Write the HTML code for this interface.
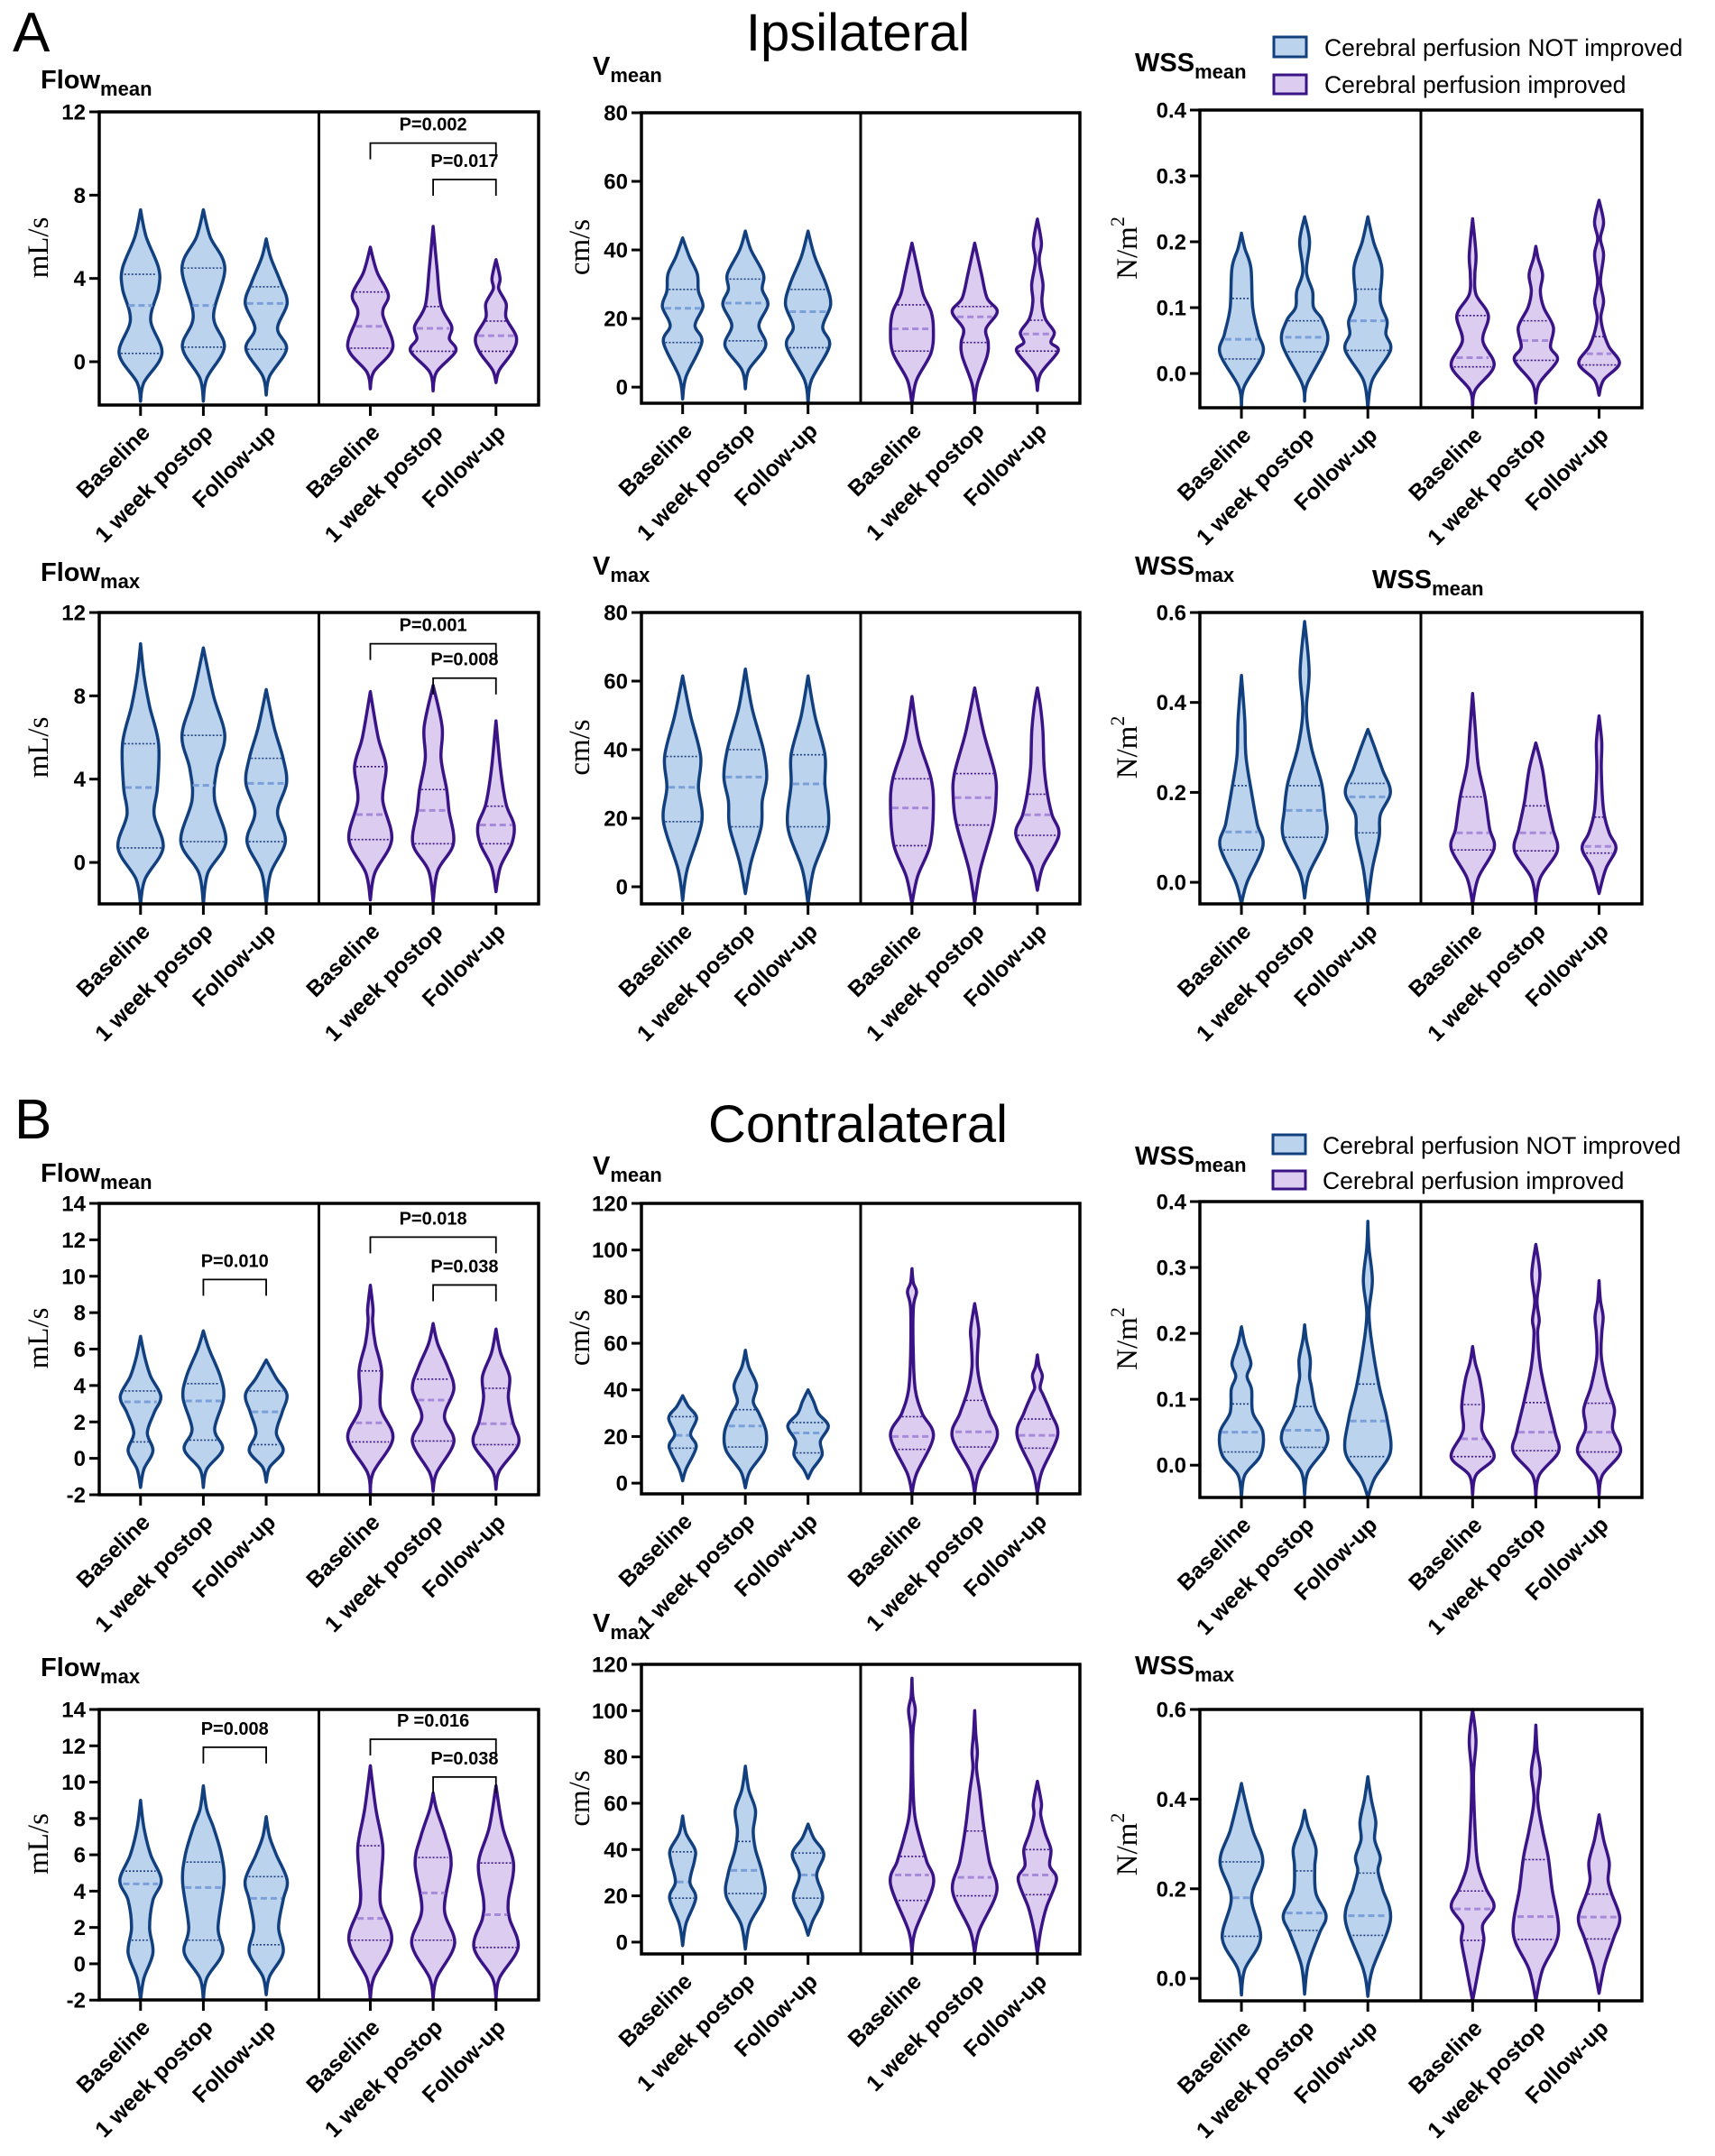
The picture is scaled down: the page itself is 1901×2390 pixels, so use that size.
<!DOCTYPE html>
<html><head><meta charset="utf-8"><title>Violin plots ipsilateral / contralateral</title>
<style>
html,body{margin:0;padding:0;background:#fff;}
svg{display:block;font-family:"Liberation Sans",Arial,sans-serif;}
</style></head>
<body>
<svg id="fig" width="1901" height="2390" viewBox="0 0 1901 2390" xmlns="http://www.w3.org/2000/svg">
<rect x="0" y="0" width="1901" height="2390" fill="#fff"/>
<text x="14" y="57" font-size="62">A</text>
<text x="951" y="56" font-size="58" text-anchor="middle">Ipsilateral</text>
<text x="16" y="1262" font-size="62">B</text>
<text x="951" y="1266" font-size="58" text-anchor="middle">Contralateral</text>
<g>
<rect x="1412" y="41" width="36" height="22" fill="#bcd3ee" stroke="#12407f" stroke-width="3"/>
<text x="1468" y="62" font-size="26.5">Cerebral perfusion NOT improved</text>
<rect x="1412" y="83" width="36" height="21" fill="#dccdf0" stroke="#3a1487" stroke-width="3"/>
<text x="1468" y="103" font-size="26.5">Cerebral perfusion improved</text>
</g>
<g>
<rect x="1411" y="1258" width="36" height="21" fill="#bcd3ee" stroke="#12407f" stroke-width="3"/>
<text x="1466" y="1279" font-size="26.5">Cerebral perfusion NOT improved</text>
<rect x="1411" y="1298" width="36" height="20" fill="#dccdf0" stroke="#3a1487" stroke-width="3"/>
<text x="1466" y="1318" font-size="26.5">Cerebral perfusion improved</text>
</g>
<text x="1521" y="652" font-size="29" font-weight="bold">WSS<tspan font-size="22" dy="8">mean</tspan></text>
</svg>
<script>
// ---------- shared data ----------
const categories = ["Baseline", "1 week postop", "Follow-up"];
const groups = ["NOT improved", "improved"];

// Row 1 (Ipsilateral) Flow mean
const ipsiFlowMeanKnots = [
 [[-1.9,0],[-1,0.15],[0.4,0.95],[2,0.45],[3.5,0.8],[4.5,0.8],[6,0.25],[7.3,0]],
 [[-1.9,0],[-0.8,0.15],[0.7,0.93],[2.2,0.45],[4.5,0.95],[6,0.3],[7.3,0]],
 [[-1.6,0],[-0.7,0.15],[0.6,0.9],[1.6,0.5],[2.8,0.93],[3.8,0.65],[5,0.2],[5.9,0]],
 [[-1.3,0],[-0.5,0.15],[0.7,1.0],[2.3,0.55],[3.2,0.8],[4.3,0.3],[5.5,0]],
 [[-1.4,0],[-0.5,0.15],[0.5,1.0],[1.1,0.72],[1.7,0.82],[2.7,0.35],[4.5,0.17],[6.5,0]],
 [[-1.0,0],[-0.4,0.15],[0.5,0.75],[1.2,0.9],[2.1,0.45],[2.8,0.45],[3.5,0.12],[4.0,0.18],[4.9,0]]
];
const ipsiFlowMeanQuart = [[0.4,2.7,4.2],[0.7,2.7,4.5],[0.6,2.8,3.6],[0.65,1.7,3.35],[0.5,1.6,2.65],[0.5,1.25,1.95]];

// Row 1 V mean
const ipsiVMeanKnots = [
 [[-3.5,0],[3,0.15],[13,0.85],[18,0.55],[23.5,0.9],[28,0.7],[33,0.65],[38,0.3],[43.5,0]],
 [[-0.5,0],[5,0.15],[12,0.9],[18,0.6],[24,1.0],[28.5,0.75],[33,0.8],[40,0.25],[45.5,0]],
 [[-5,0],[2,0.15],[12,0.95],[17.5,0.65],[24,1.0],[30,0.8],[38,0.3],[45.5,0]],
 [[-5,0],[2,0.2],[10,0.85],[17,0.95],[22,0.85],[27,0.5],[33,0.3],[42,0]],
 [[-5,0],[1,0.12],[9,0.55],[13,0.6],[17,0.5],[22,1.0],[26,0.55],[33,0.3],[42,0]],
 [[-1,0],[4,0.15],[10.5,0.92],[13,0.6],[16,0.75],[20,0.35],[25,0.2],[30,0.25],[37,0.08],[42,0.18],[49,0]]
];
const ipsiVMeanQuart = [[13,23,28.5],[13.5,24.5,31.5],[11.5,22,28.5],[10.5,17,24],[13,20.5,23.5],[10.5,15.5,19.5]];

// Row 1 WSS mean
const ipsiWssMeanKnots = [
 [[-0.052,0],[-0.02,0.12],[0.03,0.95],[0.06,0.75],[0.1,0.5],[0.16,0.42],[0.19,0.15],[0.213,0]],
 [[-0.042,0],[-0.015,0.12],[0.045,1.0],[0.08,0.8],[0.1,0.4],[0.125,0.35],[0.155,0.08],[0.2,0.22],[0.238,0]],
 [[-0.052,0],[-0.01,0.2],[0.035,1.0],[0.06,0.8],[0.08,0.85],[0.11,0.55],[0.16,0.62],[0.2,0.25],[0.238,0]],
 [[-0.052,0],[-0.025,0.12],[0.012,0.95],[0.05,0.45],[0.088,0.7],[0.12,0.15],[0.15,0.1],[0.18,0.15],[0.235,0]],
 [[-0.045,0],[-0.015,0.15],[0.02,0.95],[0.04,0.65],[0.07,0.78],[0.1,0.35],[0.125,0.2],[0.15,0.3],[0.175,0.1],[0.193,0]],
 [[-0.033,0],[-0.01,0.2],[0.015,0.9],[0.04,0.45],[0.06,0.22],[0.085,0.08],[0.11,0.2],[0.14,0.06],[0.18,0.2],[0.205,0.06],[0.23,0.2],[0.263,0]]
];
const ipsiWssMeanQuart = [[0.022,0.052,0.114],[0.033,0.055,0.08],[0.035,0.08,0.128],[0.01,0.024,0.088],[0.02,0.05,0.08],[0.013,0.03,0.056]];

// Row 2 Flow max
const ipsiFlowMaxKnots = [
 [[-2,0],[-0.8,0.2],[0.7,1.0],[2.3,0.6],[3.6,0.75],[5.7,0.8],[7.5,0.4],[9,0.15],[10.5,0]],
 [[-2,0],[-0.5,0.2],[1,1.0],[3,0.5],[4.5,0.6],[6.1,0.95],[8,0.45],[10.3,0]],
 [[-2,0],[-0.5,0.2],[1,0.85],[2.4,0.5],[3.8,0.9],[5,0.75],[6.5,0.35],[8.3,0]],
 [[-1.8,0],[-0.5,0.2],[1.1,0.95],[3,0.55],[4.6,0.7],[6,0.35],[8.2,0]],
 [[-1.9,0],[-0.4,0.2],[0.9,0.9],[2.5,0.7],[3.5,0.6],[5,0.35],[6.5,0.4],[8.5,0]],
 [[-1.4,0],[-0.2,0.2],[0.9,0.7],[1.8,0.8],[2.8,0.45],[4.5,0.2],[6.8,0]]
];
const ipsiFlowMaxQuart = [[0.7,3.6,5.7],[1.0,3.7,6.1],[1,3.8,5],[1.1,2.3,4.6],[0.9,2.5,3.5],[0.9,1.8,2.7]];

// Row 2 V max
const ipsiVMaxKnots = [
 [[-4,0],[5,0.2],[19,0.85],[29,0.7],[38,0.8],[50,0.35],[61.5,0]],
 [[-2,0],[7,0.25],[17.5,0.7],[25,0.75],[32,0.95],[40,0.8],[52,0.3],[63.5,0]],
 [[-5,0],[5,0.25],[17.5,0.9],[30,0.75],[38.5,0.75],[50,0.3],[61.5,0]],
 [[-5,0],[3,0.25],[12,0.8],[23,0.95],[31.5,0.85],[43,0.3],[55.5,0]],
 [[-5,0],[5,0.25],[18,0.8],[26,0.95],[33,0.9],[45,0.4],[58,0]],
 [[-1,0],[6,0.25],[15,0.95],[21,0.65],[27,0.45],[35,0.3],[45,0.25],[52,0.15],[58,0]]
];
const ipsiVMaxQuart = [[19,29,38],[17.5,32,40],[17.5,30,38.5],[12,23,31.5],[18,26,33],[15,21,27]];

// Row 2 WSS max
const ipsiWssMaxKnots = [
 [[-0.048,0],[0,0.25],[0.08,0.95],[0.13,0.7],[0.2,0.45],[0.28,0.2],[0.36,0.15],[0.46,0]],
 [[-0.035,0],[0.02,0.2],[0.1,0.95],[0.16,0.9],[0.22,0.75],[0.3,0.3],[0.38,0.08],[0.47,0.2],[0.58,0]],
 [[-0.048,0],[0.03,0.2],[0.1,0.5],[0.15,0.55],[0.2,1.0],[0.25,0.65],[0.3,0.3],[0.34,0]],
 [[-0.048,0],[0.01,0.25],[0.075,0.95],[0.12,0.75],[0.19,0.55],[0.26,0.25],[0.34,0.12],[0.42,0]],
 [[-0.045,0],[0.01,0.2],[0.07,0.95],[0.12,0.75],[0.18,0.5],[0.25,0.3],[0.31,0]],
 [[-0.025,0],[0.03,0.3],[0.075,0.75],[0.11,0.45],[0.16,0.2],[0.25,0.1],[0.31,0.12],[0.37,0]]
];
const ipsiWssMaxQuart = [[0.072,0.112,0.215],[0.1,0.16,0.215],[0.11,0.19,0.22],[0.072,0.11,0.19],[0.07,0.11,0.17],[0.065,0.08,0.145]];

// Row 3 (Contralateral) Flow mean
const contraFlowMeanKnots = [
 [[-1.6,0],[-0.6,0.15],[0.4,0.55],[1.4,0.3],[2.5,0.6],[3.4,0.9],[4.5,0.45],[5.5,0.2],[6.7,0]],
 [[-1.6,0],[-0.6,0.15],[0.5,0.85],[1.6,0.5],[3.3,0.9],[4.5,0.75],[6,0.25],[7,0]],
 [[-1.3,0],[-0.5,0.15],[0.4,0.75],[1.4,0.45],[2.5,0.7],[3.5,0.92],[4.4,0.45],[5.4,0]],
 [[-2,0],[-0.8,0.12],[1.1,1.0],[2.8,0.45],[4.8,0.5],[6.3,0.22],[7.5,0.1],[8.2,0.12],[9.5,0]],
 [[-1.8,0],[-0.8,0.15],[0.9,0.92],[2.3,0.5],[3.8,0.92],[5,0.65],[6.3,0.2],[7.4,0]],
 [[-1.7,0],[-0.7,0.15],[0.8,1.0],[2,0.75],[3.3,0.55],[4.5,0.6],[5.8,0.2],[7.1,0]]
];
const contraFlowMeanQuart = [[0.9,3.1,3.7],[1.0,3.15,4.1],[0.75,2.55,3.7],[0.9,1.95,4.8],[0.95,3.2,4.35],[0.75,1.9,3.85]];

// Row 3 V mean
const contraVMeanKnots = [
 [[1,0],[6,0.15],[15.5,0.6],[21,0.35],[28,0.62],[33,0.25],[37.5,0]],
 [[-2,0],[5,0.2],[14,0.85],[22,0.92],[30,0.6],[35,0.35],[42,0.5],[50,0.15],[57,0]],
 [[2,0],[6,0.2],[12,0.62],[18,0.55],[24.5,0.9],[30,0.45],[35,0.25],[40,0]],
 [[-4.6,0],[4,0.2],[20,0.95],[30,0.45],[40,0.15],[55,0.06],[75,0.06],[82,0.2],[86,0.06],[92,0]],
 [[-4.6,0],[5,0.2],[20,1.0],[30,0.65],[40,0.3],[50,0.12],[60,0.15],[66,0.18],[77,0]],
 [[-4.6,0],[5,0.2],[20.5,0.9],[30,0.6],[38,0.25],[41,0.12],[46,0.22],[50,0.08],[55,0]]
];
const contraVMeanQuart = [[15,20.5,28.5],[15.5,24.5,31.5],[13,21.5,26],[14.5,20,28.5],[15.5,22,35.5],[15,20.5,27.5]];

// Row 3 WSS mean
const contraWssMeanKnots = [
 [[-0.049,0],[-0.015,0.15],[0.015,0.85],[0.05,0.95],[0.08,0.5],[0.115,0.45],[0.135,0.25],[0.155,0.42],[0.185,0.15],[0.21,0]],
 [[-0.045,0],[-0.01,0.15],[0.025,0.9],[0.05,1.0],[0.085,0.5],[0.12,0.3],[0.135,0.22],[0.16,0.25],[0.19,0.08],[0.213,0]],
 [[-0.049,0],[-0.02,0.3],[0.02,1.0],[0.07,0.85],[0.12,0.5],[0.18,0.2],[0.23,0.05],[0.28,0.2],[0.33,0.05],[0.37,0]],
 [[-0.045,0],[-0.015,0.15],[0.012,0.95],[0.045,0.5],[0.06,0.4],[0.09,0.48],[0.13,0.32],[0.155,0.12],[0.18,0]],
 [[-0.049,0],[-0.015,0.15],[0.02,1.0],[0.05,0.85],[0.1,0.5],[0.15,0.2],[0.2,0.08],[0.22,0.15],[0.25,0.05],[0.29,0.18],[0.335,0]],
 [[-0.045,0],[-0.015,0.15],[0.02,0.95],[0.055,0.6],[0.085,0.68],[0.12,0.35],[0.165,0.1],[0.2,0.12],[0.225,0.18],[0.25,0.06],[0.28,0]]
];
const contraWssMeanQuart = [[0.02,0.05,0.093],[0.027,0.053,0.089],[0.013,0.067,0.123],[0.013,0.04,0.092],[0.022,0.05,0.095],[0.02,0.05,0.094]];

// Row 4 Flow max
const contraFlowMaxKnots = [
 [[-1.99,0],[-0.8,0.15],[0.6,0.55],[2,0.4],[3.5,0.55],[4.6,0.92],[6,0.45],[7.5,0.15],[9,0]],
 [[-1.99,0],[-0.8,0.15],[0.6,0.85],[2,0.65],[4.5,0.92],[6,0.8],[7.5,0.45],[8.5,0.15],[9.8,0]],
 [[-1.7,0],[-0.7,0.15],[0.6,0.75],[2,0.55],[3.5,0.75],[4.6,0.93],[6,0.45],[7,0.15],[8.1,0]],
 [[-1.99,0],[-0.8,0.15],[1.3,0.95],[3.3,0.45],[5,0.5],[6.5,0.55],[8.5,0.25],[10.9,0]],
 [[-1.99,0],[-0.8,0.15],[1.1,0.95],[3,0.5],[5.5,0.8],[7,0.55],[8.5,0.15],[9.4,0]],
 [[-1.99,0],[-0.8,0.15],[0.9,0.98],[2.5,0.6],[3.5,0.55],[5.5,0.78],[7.5,0.3],[9.8,0]]
];
const contraFlowMaxQuart = [[1.3,4.4,5.1],[1.3,4.2,5.6],[1.05,3.6,4.8],[1.3,2.5,6.5],[1.3,3.9,5.85],[0.9,2.7,5.55]];

// Row 4 V max
const contraVMaxKnots = [
 [[-1.5,0],[8,0.15],[19,0.58],[26,0.32],[35,0.52],[40,0.55],[47,0.15],[54.5,0]],
 [[-3,0],[8,0.2],[20,0.85],[30,0.75],[40,0.45],[48,0.35],[57,0.45],[66,0.15],[76,0]],
 [[3,0],[9,0.2],[19,0.65],[29,0.38],[38,0.7],[45,0.25],[51,0]],
 [[-5,0],[5,0.15],[25,0.95],[35,0.65],[45,0.35],[55,0.12],[70,0.04],[90,0.04],[100,0.15],[106,0.04],[114,0]],
 [[-5,0],[5,0.2],[22,0.98],[35,0.65],[50,0.4],[65,0.22],[75,0.08],[82,0.12],[90,0.05],[100,0]],
 [[-5,0],[5,0.15],[15,0.4],[27,0.85],[33,0.55],[40,0.6],[47,0.35],[55,0.15],[60,0.18],[69.5,0]]
];
const contraVMaxQuart = [[19,26,39],[21,31,43.5],[19,29,38.5],[18,29,37],[20,28,48],[20.5,29,40]];

// Row 4 WSS max
const contraWssMaxKnots = [
 [[-0.037,0],[0.02,0.15],[0.09,0.85],[0.18,0.45],[0.26,0.95],[0.33,0.5],[0.4,0.15],[0.435,0]],
 [[-0.035,0],[0.03,0.15],[0.1,0.65],[0.14,0.95],[0.19,0.5],[0.25,0.45],[0.29,0.5],[0.34,0.15],[0.375,0]],
 [[-0.04,0],[0.02,0.2],[0.13,1.0],[0.2,0.65],[0.24,0.45],[0.27,0.55],[0.31,0.3],[0.35,0.35],[0.4,0.15],[0.45,0]],
 [[-0.05,0],[0.03,0.3],[0.085,0.5],[0.12,0.45],[0.16,0.95],[0.2,0.6],[0.25,0.25],[0.32,0.12],[0.45,0.04],[0.53,0.15],[0.6,0]],
 [[-0.05,0],[0.02,0.3],[0.1,1.0],[0.2,0.72],[0.27,0.55],[0.33,0.3],[0.4,0.08],[0.46,0.2],[0.51,0.06],[0.565,0]],
 [[-0.033,0],[0.03,0.25],[0.09,0.65],[0.135,0.92],[0.19,0.55],[0.22,0.4],[0.26,0.45],[0.31,0.2],[0.365,0]]
];
const contraWssMaxQuart = [[0.094,0.18,0.26],[0.107,0.146,0.24],[0.096,0.14,0.235],[0.085,0.155,0.195],[0.087,0.138,0.265],[0.088,0.137,0.188]];

// Tick values and labels
const flowTicks12 = [0,4,8,12];
const flowTickLabels12 = ["0","4","8","12"];
const flowTicks14 = [-2,0,2,4,6,8,10,12,14];
const flowTickLabels14 = ["-2","0","2","4","6","8","10","12","14"];
const vTicks80 = [0,20,40,60,80];
const vTickLabels80 = ["0","20","40","60","80"];
const vTicks120 = [0,20,40,60,80,100,120];
const vTickLabels120 = ["0","20","40","60","80","100","120"];
const wssTicks04 = [0,0.1,0.2,0.3,0.4];
const wssTickLabels04 = ["0.0","0.1","0.2","0.3","0.4"];
const wssTicks06 = [0,0.2,0.4,0.6];
const wssTickLabels06 = ["0.0","0.2","0.4","0.6"];

// Significance brackets: [label, fromCategoryIndex, toCategoryIndex, bracketValue]
const ipsiFlowMeanP = [["P=0.002",3,5,10.5],["P=0.017",4,5,8.75]];
const ipsiFlowMaxP = [["P=0.001",3,5,10.5],["P=0.008",4,5,8.85]];
const contraFlowMeanP = [["P=0.010",1,2,9.82],["P=0.018",3,5,12.15],["P=0.038",4,5,9.52]];
const contraFlowMaxP = [["P=0.008",1,2,11.92],["P =0.016",3,5,12.36],["P=0.038",4,5,10.28]];

// ---------- layout (not data) ----------
const COL = [{x0:110,x1:597,tx:45,ux:53},{x0:711,x1:1197,tx:657,ux:653},{x0:1330,x1:1820,tx:1258,ux:1260}];
const panels = [
 {name:"ipsi-flow-mean",col:0,top:124,bottom:449,ymin:-2.08,ymax:12,ticks:flowTicks12,labels:flowTickLabels12,title:"Flow",sub:"mean",tby:98,unit:"mL/s",knots:ipsiFlowMeanKnots,quart:ipsiFlowMeanQuart,p:ipsiFlowMeanP},
 {name:"ipsi-v-mean",col:1,top:125,bottom:447,ymin:-4.7,ymax:80,ticks:vTicks80,labels:vTickLabels80,title:"V",sub:"mean",tby:83,unit:"cm/s",knots:ipsiVMeanKnots,quart:ipsiVMeanQuart,p:[]},
 {name:"ipsi-wss-mean",col:2,top:122,bottom:452,ymin:-0.052,ymax:0.4,ticks:wssTicks04,labels:wssTickLabels04,title:"WSS",sub:"mean",tby:79,unit:"N/m",knots:ipsiWssMeanKnots,quart:ipsiWssMeanQuart,p:[]},
 {name:"ipsi-flow-max",col:0,top:679,bottom:1002,ymin:-1.99,ymax:12,ticks:flowTicks12,labels:flowTickLabels12,title:"Flow",sub:"max",tby:644,unit:"mL/s",knots:ipsiFlowMaxKnots,quart:ipsiFlowMaxQuart,p:ipsiFlowMaxP},
 {name:"ipsi-v-max",col:1,top:679,bottom:1002,ymin:-5,ymax:80,ticks:vTicks80,labels:vTickLabels80,title:"V",sub:"max",tby:637,unit:"cm/s",knots:ipsiVMaxKnots,quart:ipsiVMaxQuart,p:[]},
 {name:"ipsi-wss-max",col:2,top:679,bottom:1002,ymin:-0.048,ymax:0.6,ticks:wssTicks06,labels:wssTickLabels06,title:"WSS",sub:"max",tby:637,unit:"N/m",knots:ipsiWssMaxKnots,quart:ipsiWssMaxQuart,p:[]},
 {name:"contra-flow-mean",col:0,top:1334,bottom:1657,ymin:-2,ymax:14,ticks:flowTicks14,labels:flowTickLabels14,title:"Flow",sub:"mean",tby:1310,unit:"mL/s",knots:contraFlowMeanKnots,quart:contraFlowMeanQuart,p:contraFlowMeanP},
 {name:"contra-v-mean",col:1,top:1334,bottom:1656,ymin:-4.6,ymax:120,ticks:vTicks120,labels:vTickLabels120,title:"V",sub:"mean",tby:1302,unit:"cm/s",knots:contraVMeanKnots,quart:contraVMeanQuart,p:[]},
 {name:"contra-wss-mean",col:2,top:1332,bottom:1660,ymin:-0.049,ymax:0.4,ticks:wssTicks04,labels:wssTickLabels04,title:"WSS",sub:"mean",tby:1291,unit:"N/m",knots:contraWssMeanKnots,quart:contraWssMeanQuart,p:[]},
 {name:"contra-flow-max",col:0,top:1895,bottom:2217,ymin:-1.99,ymax:14,ticks:flowTicks14,labels:flowTickLabels14,title:"Flow",sub:"max",tby:1858,unit:"mL/s",knots:contraFlowMaxKnots,quart:contraFlowMaxQuart,p:contraFlowMaxP},
 {name:"contra-v-max",col:1,top:1845,bottom:2166,ymin:-5.1,ymax:120,ticks:vTicks120,labels:vTickLabels120,title:"V",sub:"max",tby:1809,unit:"cm/s",knots:contraVMaxKnots,quart:contraVMaxQuart,p:[]},
 {name:"contra-wss-max",col:2,top:1895,bottom:2218,ymin:-0.05,ymax:0.6,ticks:wssTicks06,labels:wssTickLabels06,title:"WSS",sub:"max",tby:1856,unit:"N/m",knots:contraWssMaxKnots,quart:contraWssMaxQuart,p:[]}
];
const STYLE = [
 {fill:"#bcd3ee",stroke:"#12407f",med:"#7b9fd8",q:"#1f3f7f"},
 {fill:"#dccdf0",stroke:"#3a1487",med:"#a68ad9",q:"#3a1487"}
];
const HW = 25;
const NS = "http://www.w3.org/2000/svg";
const svg = document.getElementById("fig");

function mk(tag, attrs, parent){
  const e = document.createElementNS(NS, tag);
  for (const k in attrs) e.setAttribute(k, attrs[k]);
  (parent||svg).appendChild(e);
  return e;
}
function yS(p, v){ return p.bottom - (v - p.ymin) / (p.ymax - p.ymin) * (p.bottom - p.top); }
function xS(p, idx){
  const c = COL[p.col]; const w = c.x1 - c.x0;
  const g = Math.floor(idx / 3), k = idx % 3;
  return c.x0 + w * (0.094 + k * 0.143 + g * 0.523);
}
function densAt(kn, v){
  for (let i = 0; i < kn.length - 1; i++){
    if (v >= kn[i][0] && v <= kn[i+1][0]){
      const t = (v - kn[i][0]) / (kn[i+1][0] - kn[i][0]);
      return kn[i][1] + t * (kn[i+1][1] - kn[i][1]);
    }
  }
  return 0;
}
function crPath(pts){
  let d = "";
  for (let i = 0; i < pts.length - 1; i++){
    const p0 = pts[Math.max(i-1,0)], p1 = pts[i], p2 = pts[i+1], p3 = pts[Math.min(i+2, pts.length-1)];
    const c1 = [p1[0] + (p2[0]-p0[0])/6, p1[1] + (p2[1]-p0[1])/6];
    const c2 = [p2[0] - (p3[0]-p1[0])/6, p2[1] - (p3[1]-p1[1])/6];
    d += " C" + c1[0].toFixed(1) + "," + c1[1].toFixed(1) + " " + c2[0].toFixed(1) + "," + c2[1].toFixed(1) + " " + p2[0].toFixed(1) + "," + p2[1].toFixed(1);
  }
  return d;
}

panels.forEach(function(p){
  const c = COL[p.col];
  const g = mk("g", {});
  
  

  const t = mk("text", {x: c.tx, y: p.tby, "font-size": 29, "font-weight": "bold"}, g);
  
  
  t.textContent = p.title;
  const ts = mk("tspan", {"font-size": 22, dy: 8}, t);
  ts.textContent = p.sub;

  const cy = (p.top + p.bottom) / 2 - 12;
  const ut = mk("text", {x: c.ux, y: cy, "font-size": 33, "text-anchor": "middle", "font-family": "'Liberation Serif', 'Times New Roman', serif", transform: "rotate(-90 " + c.ux + " " + cy + ")"}, g);
  
  
  ut.textContent = p.unit;
  if (p.unit === "N/m"){
    const sup = mk("tspan", {"font-size": 22, dy: -14}, ut);
    sup.textContent = "2";
  }

  p.knots.forEach(function(kn, i){
    const st = STYLE[Math.floor(i/3)];
    const cx = xS(p, i);
    const right = kn.map(function(k){ return [cx + k[1]*HW, yS(p, k[0])]; });
    const left = kn.slice().reverse().map(function(k){ return [cx - k[1]*HW, yS(p, k[0])]; });
    let d = "M" + right[0][0].toFixed(1) + "," + right[0][1].toFixed(1) + crPath(right) + crPath([right[right.length-1]].concat(left.slice(1))) + "Z";
    const vg = mk("g", {}, g);
    
    
    const path = mk("path", {d: d, fill: st.fill, stroke: st.stroke, "stroke-width": 3.5, "stroke-linejoin": "round"}, vg);
    
    
    const q = p.quart[i];
    [0,2].forEach(function(j){
      const hw = Math.max(densAt(kn, q[j]) * HW - 2, 2);
      const ln = mk("line", {x1: cx-hw, x2: cx+hw, y1: yS(p,q[j]), y2: yS(p,q[j]), stroke: st.q, "stroke-width": 1.6, "stroke-dasharray": "2 2"}, vg);
      
      
    });
    const hwm = Math.max(densAt(kn, q[1]) * HW - 2, 2);
    const ml = mk("line", {x1: cx-hwm, x2: cx+hwm, y1: yS(p,q[1]), y2: yS(p,q[1]), stroke: st.med, "stroke-width": 3, "stroke-dasharray": "7 4"}, vg);
    
    
  });

  const fr = mk("rect", {x: c.x0, y: p.top, width: c.x1 - c.x0, height: p.bottom - p.top, fill: "none", stroke: "#000", "stroke-width": 3.5}, g);
  
  
  const dv = (c.x0 + c.x1) / 2;
  const dl = mk("line", {x1: dv, x2: dv, y1: p.top, y2: p.bottom, stroke: "#000", "stroke-width": 3}, g);
  
  

  p.ticks.forEach(function(v, i){
    const y = yS(p, v);
    const tk = mk("line", {x1: c.x0 - 11, x2: c.x0, y1: y, y2: y, stroke: "#000", "stroke-width": 3}, g);
    
    
    const tl = mk("text", {x: c.x0 - 15, y: y + 8.5, "font-size": 24, "font-weight": "bold", "text-anchor": "end"}, g);
    
    
    tl.textContent = p.labels[i];
  });

  for (let i = 0; i < 6; i++){
    const x = xS(p, i);
    const tk = mk("line", {x1: x, x2: x, y1: p.bottom, y2: p.bottom + 12, stroke: "#000", "stroke-width": 3}, g);
    
    
    const lx = x + 12, ly = p.bottom + 32;
    const xl = mk("text", {x: lx, y: ly, "font-size": 25, "font-weight": "bold", "text-anchor": "end", transform: "rotate(-45 " + lx + " " + ly + ")"}, g);
    
    
    xl.textContent = categories[i % 3];
  }

  p.p.forEach(function(b){
    const xa = xS(p, b[1]), xb = xS(p, b[2]), y = yS(p, b[3]);
    const br = mk("path", {d: "M" + xa + "," + (y+18) + " V" + y + " H" + xb + " V" + (y+18), fill: "none", stroke: "#000", "stroke-width": 1.8}, g);
    
    
    const bt = mk("text", {x: (xa+xb)/2, y: y - 14, "font-size": 20, "font-weight": "bold", "text-anchor": "middle"}, g);
    
    
    bt.textContent = b[0];
  });
});
</script>
</body></html>
